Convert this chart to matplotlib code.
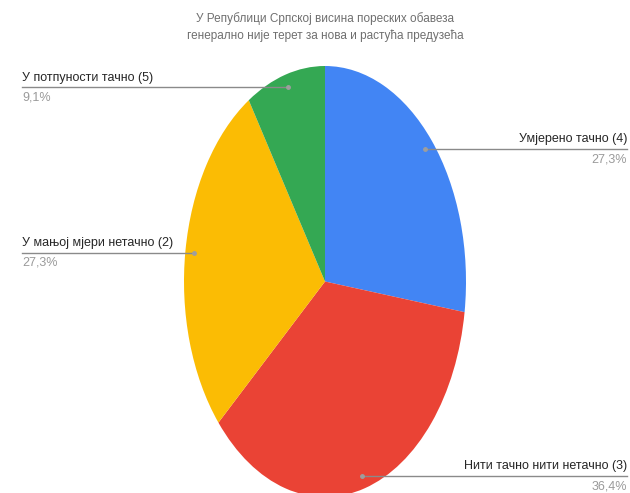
import numpy as np
import matplotlib
matplotlib.use("Agg")
import matplotlib.pyplot as plt
from matplotlib.transforms import blended_transform_factory

plt.rcParams['font.family'] = ['Liberation Sans Narrow', 'Liberation Sans', 'DejaVu Sans']

title = "У Републици Српској висина пореских обавеза\nгенерално није терет за нова и растућа предузећа"
labels = ["Умјерено тачно (4)", "Нити тачно нити нетачно (3)",
          "У мањој мјери нетачно (2)", "У потпуности тачно (5)"]
values = [27.3, 36.4, 27.3, 9.1]
pct_text = ["27,3%", "36,4%", "27,3%", "9,1%"]
colors = ["#4285F4", "#EA4335", "#FBBC04", "#34A853"]

W, H = 630, 493
fig = plt.figure(figsize=(W / 100, H / 100), dpi=100)
fig.patch.set_facecolor("white")

# pie is stretched into an ellipse by a non-square axes
ax = fig.add_axes([184 / W, -4 / H, 282 / W, 431 / H])
ax.pie(values, colors=colors, startangle=90, counterclock=False,
       wedgeprops=dict(linewidth=0))
ax.set_aspect('auto')
ax.set_xlim(-1, 1)
ax.set_ylim(-1, 1)
ax.axis('off')

fig.text(325 / W, 1 - 27 / H, title, ha='center', va='center',
         fontsize=8.5, color='#6f6f6f', linespacing=1.5)

trans = blended_transform_factory(fig.transFigure, ax.transData)
total = sum(values)
cum = 0
for lab, v, p in zip(labels, values, pct_text):
    mid = (cum + v / 2) / total * 2 * np.pi
    cum += v
    dx, dy = 0.94 * np.sin(mid), 0.94 * np.cos(mid)
    right = dx > 0
    xend = 627 / W if right else 22 / W
    ax.plot([dx], [dy], 'o', ms=2.5, color='#9e9e9e', zorder=5)
    dx_fig = fig.transFigure.inverted().transform(ax.transData.transform((dx, dy)))[0]
    ax.plot([dx_fig, xend], [dy, dy], color='#8a8a8a', lw=1.0,
            transform=trans, clip_on=False, zorder=4)
    ha = 'right' if right else 'left'
    ax.annotate(lab, xy=(xend, dy), xycoords=trans, xytext=(0, 2.5),
                textcoords='offset points', ha=ha, va='bottom',
                fontsize=9, color='#262626', annotation_clip=False)
    ax.annotate(p, xy=(xend, dy), xycoords=trans, xytext=(0, -3),
                textcoords='offset points', ha=ha, va='top',
                fontsize=9, color='#9a9a9a', annotation_clip=False)

fig.savefig("out.png", dpi=100)
